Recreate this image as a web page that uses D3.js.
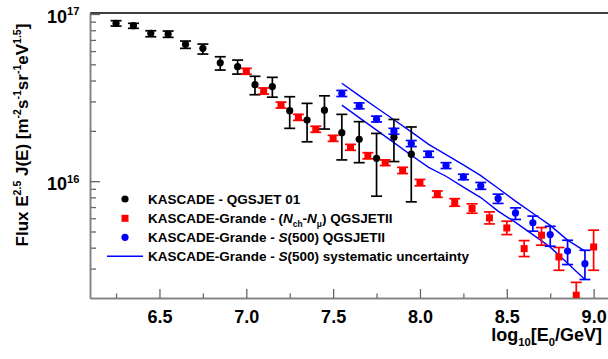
<!DOCTYPE html>
<html>
<head>
<meta charset="utf-8">
<script src="https://cdn.jsdelivr.net/npm/d3@7"></script>
<style>
  body { margin: 0; background: #fff; }
  svg text { font-family: "Liberation Sans", Arial, sans-serif; font-weight: bold; fill: #000; }
</style>
</head>
<body>
<script>
// KASCADE - QGSJET 01 (black circles)
var kascadeE    = [6.25, 6.35, 6.45, 6.55, 6.65, 6.75, 6.85, 6.95, 7.05, 7.15, 7.25, 7.35, 7.45, 7.55, 7.65, 7.75, 7.85, 7.95];
var kascadeFlux = [8.80e16, 8.51e16, 7.66e16, 7.59e16, 6.59e16, 6.23e16, 5.11e16, 4.84e16, 3.78e16, 3.68e16, 2.64e16, 2.32e16, 2.66e16, 1.95e16, 1.78e16, 1.37e16, 1.83e16, 1.45e16];
var kascadeHi   = [9.12e16, 8.80e16, 7.94e16, 7.91e16, 6.89e16, 6.61e16, 5.55e16, 5.30e16, 4.24e16, 4.18e16, 3.20e16, 2.92e16, 3.24e16, 2.51e16, 2.27e16, 1.93e16, 2.34e16, 2.11e16];
var kascadeLo   = [8.47e16, 8.21e16, 7.31e16, 7.25e16, 6.23e16, 5.76e16, 4.62e16, 4.37e16, 3.29e16, 3.18e16, 2.07e16, 1.72e16, 2.05e16, 1.34e16, 1.29e16, 8.13e15, 1.31e16, 7.52e15];

// KASCADE-Grande (Nch-Nmu) QGSJETII (red squares)
var nchE    = [7.0, 7.1, 7.2, 7.3, 7.4, 7.5, 7.6, 7.7, 7.8, 7.9, 8.0, 8.1, 8.2, 8.3, 8.4, 8.5, 8.6, 8.7, 8.8, 8.9, 9.0];
var nchFlux = [4.54e16, 3.46e16, 2.85e16, 2.41e16, 2.04e16, 1.80e16, 1.59e16, 1.42e16, 1.29e16, 1.16e16, 9.80e15, 8.36e15, 7.46e15, 6.86e15, 6.03e15, 5.25e15, 3.95e15, 4.75e15, 3.52e15, 2.08e15, 4.04e15];
var nchHi   = [4.73e16, 3.61e16, 2.97e16, 2.51e16, 2.13e16, 1.88e16, 1.66e16, 1.48e16, 1.34e16, 1.21e16, 1.024e16, 8.74e15, 7.86e15, 7.32e15, 6.55e15, 5.76e15, 4.41e15, 5.28e15, 4.01e15, 2.48e15, 5.09e15];
var nchLo   = [4.36e16, 3.32e16, 2.74e16, 2.31e16, 1.96e16, 1.73e16, 1.53e16, 1.36e16, 1.24e16, 1.11e16, 9.38e15, 8.00e15, 7.08e15, 6.43e15, 5.55e15, 4.79e15, 3.54e15, 4.14e15, 2.93e15, 1.50e15, 2.93e15];

// KASCADE-Grande S(500) QGSJETII (blue circles) and its systematic band
var s500E    = [7.55, 7.65, 7.75, 7.85, 7.95, 8.05, 8.15, 8.25, 8.35, 8.45, 8.55, 8.65, 8.75, 8.85, 8.95];
var s500Flux = [3.35e16, 2.82e16, 2.35e16, 1.99e16, 1.68e16, 1.45e16, 1.24e16, 1.06e16, 9.37e15, 7.88e15, 6.46e15, 5.63e15, 4.79e15, 3.82e15, 3.21e15];
var s500Hi   = [3.49e16, 2.94e16, 2.45e16, 2.07e16, 1.75e16, 1.51e16, 1.29e16, 1.10e16, 9.82e15, 8.36e15, 6.92e15, 6.18e15, 5.37e15, 4.43e15, 3.86e15];
var s500Lo   = [3.21e16, 2.71e16, 2.26e16, 1.91e16, 1.61e16, 1.39e16, 1.19e16, 1.02e16, 8.94e15, 7.36e15, 5.90e15, 5.02e15, 4.08e15, 3.17e15, 2.58e15];
var sysUpper = [3.85e16, 3.25e16, 2.75e16, 2.33e16, 1.97e16, 1.66e16, 1.44e16, 1.25e16, 1.08e16, 9.07e15, 7.60e15, 6.43e15, 5.44e15, 4.44e15, 3.81e15];
var sysLower = [2.85e16, 2.40e16, 2.02e16, 1.70e16, 1.43e16, 1.21e16, 1.07e16, 9.22e15, 7.98e15, 6.62e15, 5.67e15, 4.79e15, 4.03e15, 3.23e15, 2.58e15];

var xMajor = [6.5, 7.0, 7.5, 8.0, 8.5, 9.0];
var xMinor = [6.25, 6.75, 7.25, 7.75, 8.25, 8.75];
var yMajor = [1e16, 1e17];
var yMinor = [3e15, 4e15, 5e15, 6e15, 7e15, 8e15, 9e15, 2e16, 3e16, 4e16, 5e16, 6e16, 7e16, 8e16, 9e16];

function drawChart() {

  var W = 608, H = 359;
  // plot frame; the right edge sits just outside the window
  var pLeft = 90, pRight = 611, pTop = 13, pBottom = 298;

  var x = d3.scaleLinear().domain([6.1, 9.1]).range([pLeft, pRight]);
  var y = d3.scaleLog().domain([2e15, 1.014e17]).range([pBottom, pTop]);

  var svg = d3.select("body").append("svg")
    .attr("width", W)
    .attr("height", H);

  // writes text with sup / sub pieces, parts = [[text, "sup"|"sub"|"", italic]]
  function richText(textSel, parts, size) {
    var shift = 0;
    parts.forEach(function(p) {
      var target = p[1] == "sup" ? -0.42 * size : (p[1] == "sub" ? 0.28 * size : 0);
      var t = textSel.append("tspan")
        .attr("dy", target - shift)
        .attr("font-size", p[1] ? size * 0.62 : size)
        .text(p[0]);
      if (p[2]) t.attr("font-style", "italic");
      shift = target;
    });
  }

  svg.append("defs").append("clipPath").attr("id", "plotclip")
    .append("rect")
    .attr("x", pLeft).attr("y", pTop)
    .attr("width", pRight - pLeft).attr("height", pBottom - pTop);

  svg.append("line")
    .attr("x1", pLeft).attr("x2", pRight)
    .attr("y1", pTop).attr("y2", pTop)
    .attr("stroke", "#000").attr("stroke-width", 1.5);

  function styleAxis(g) {
    g.select(".domain").attr("stroke", "#808080").attr("stroke-width", 1.5);
    g.selectAll(".tick line").attr("stroke", "#666").attr("stroke-width", 1.3);
  }

  // ticks point inwards
  svg.append("g")
    .attr("transform", "translate(0," + pBottom + ")")
    .call(d3.axisBottom(x).tickValues(xMinor).tickSize(-4.5).tickSizeOuter(0).tickFormat(""))
    .call(styleAxis);

  var xAxis = svg.append("g")
    .attr("transform", "translate(0," + pBottom + ")")
    .call(d3.axisBottom(x).tickValues(xMajor).tickSize(-9).tickSizeOuter(0).tickPadding(12).tickFormat(d3.format(".1f")))
    .call(styleAxis);
  xAxis.selectAll(".tick text")
    .attr("font-size", 18)
    .attr("font-family", "Liberation Sans, Arial, sans-serif")
    .attr("font-weight", "bold");

  svg.append("g")
    .attr("transform", "translate(" + pLeft + ",0)")
    .call(d3.axisLeft(y).tickValues(yMinor).tickSize(-6).tickSizeOuter(0).tickFormat(""))
    .call(styleAxis);

  svg.append("g")
    .attr("transform", "translate(" + pLeft + ",0)")
    .call(d3.axisLeft(y).tickValues(yMajor).tickSize(-10).tickSizeOuter(0).tickFormat(""))
    .call(styleAxis);

  yMajor.forEach(function(v) {
    var t = svg.append("text")
      .attr("x", 47)
      .attr("y", y(v) + 9)
      .attr("font-size", 18);
    richText(t, [["10", ""], [String(Math.round(Math.log10(v))), "sup"]], 18);
  });

  // axis titles
  var yTitle = svg.append("text")
    .attr("transform", "translate(28,135) rotate(-90)")
    .attr("text-anchor", "middle")
    .attr("font-size", 17);
  richText(yTitle, [["Flux E", ""], ["2.5", "sup"], [" J(E) [m", ""], ["-2", "sup"], ["s", ""], ["-1", "sup"],
    ["sr", ""], ["-1", "sup"], ["eV", ""], ["1.5", "sup"], ["]", ""]], 17);

  var xTitle = svg.append("text")
    .attr("x", 602)
    .attr("y", 341)
    .attr("text-anchor", "end")
    .attr("font-size", 18);
  richText(xTitle, [["log", ""], ["10", "sub"], ["[E", ""], ["0", "sub"], ["/GeV]", ""]], 18);

  // data
  var plot = svg.append("g").attr("clip-path", "url(#plotclip)");

  function series(E, flux, hi, lo) {
    return E.map(function(e, i) { return { e: e, v: flux[i], hi: hi[i], lo: lo[i] }; });
  }

  function drawErrors(data, color) {
    var g = plot.append("g").attr("stroke", color).attr("stroke-width", 1.7);
    data.forEach(function(d) {
      g.append("line")
        .attr("x1", x(d.e)).attr("x2", x(d.e))
        .attr("y1", y(d.hi)).attr("y2", y(d.lo));
      [d.hi, d.lo].forEach(function(c) {
        g.append("line")
          .attr("x1", x(d.e) - 5.5).attr("x2", x(d.e) + 5.5)
          .attr("y1", y(c)).attr("y2", y(c));
      });
    });
  }

  var sysLine = d3.line()
    .x(function(d) { return x(d[0]); })
    .y(function(d) { return y(d[1]); });

  [sysUpper, sysLower].forEach(function(band) {
    plot.append("path")
      .datum(s500E.map(function(e, i) { return [e, band[i]]; }))
      .attr("d", sysLine)
      .attr("fill", "none")
      .attr("stroke", "#0000ff")
      .attr("stroke-width", 1.4);
  });

  var kascade = series(kascadeE, kascadeFlux, kascadeHi, kascadeLo);
  var nch = series(nchE, nchFlux, nchHi, nchLo);
  var s500 = series(s500E, s500Flux, s500Hi, s500Lo);

  drawErrors(kascade, "#000");
  drawErrors(nch, "#ff0000");
  drawErrors(s500, "#0000ff");

  plot.selectAll(".kascade").data(kascade).enter().append("circle")
    .attr("cx", function(d) { return x(d.e); })
    .attr("cy", function(d) { return y(d.v); })
    .attr("r", 3.6)
    .attr("fill", "#000");

  plot.selectAll(".nch").data(nch).enter().append("rect")
    .attr("x", function(d) { return x(d.e) - 3.5; })
    .attr("y", function(d) { return y(d.v) - 3.5; })
    .attr("width", 7).attr("height", 7)
    .attr("fill", "#ff0000");

  plot.selectAll(".s500").data(s500).enter().append("circle")
    .attr("cx", function(d) { return x(d.e); })
    .attr("cy", function(d) { return y(d.v); })
    .attr("r", 3.6)
    .attr("fill", "#0000ff");

  // legend
  var legend = svg.append("g");
  var rows = [199, 218.3, 237.3, 256.3];
  var lsize = 13.5;

  legend.append("circle").attr("cx", 125).attr("cy", rows[0]).attr("r", 3.6).attr("fill", "#000");
  legend.append("rect").attr("x", 121.5).attr("y", rows[1] - 3.5).attr("width", 7).attr("height", 7).attr("fill", "#ff0000");
  legend.append("circle").attr("cx", 125).attr("cy", rows[2]).attr("r", 3.6).attr("fill", "#0000ff");
  legend.append("line").attr("x1", 107).attr("x2", 143).attr("y1", rows[3]).attr("y2", rows[3])
    .attr("stroke", "#0000ff").attr("stroke-width", 1.5);

  var labels = [
    [["KASCADE - QGSJET 01", ""]],
    [["KASCADE-Grande - (", ""], ["N", "", true], ["ch", "sub"], ["-", ""], ["N", "", true], ["\u03bc", "sub"], [") QGSJETII", ""]],
    [["KASCADE-Grande - ", ""], ["S", "", true], ["(500) QGSJETII", ""]],
    [["KASCADE-Grande - ", ""], ["S", "", true], ["(500) systematic uncertainty", ""]]
  ];
  labels.forEach(function(parts, i) {
    var t = legend.append("text")
      .attr("x", 148)
      .attr("y", rows[i] + 5)
      .attr("font-size", lsize);
    richText(t, parts, lsize);
  });
}

drawChart();
</script>
</body>
</html>
